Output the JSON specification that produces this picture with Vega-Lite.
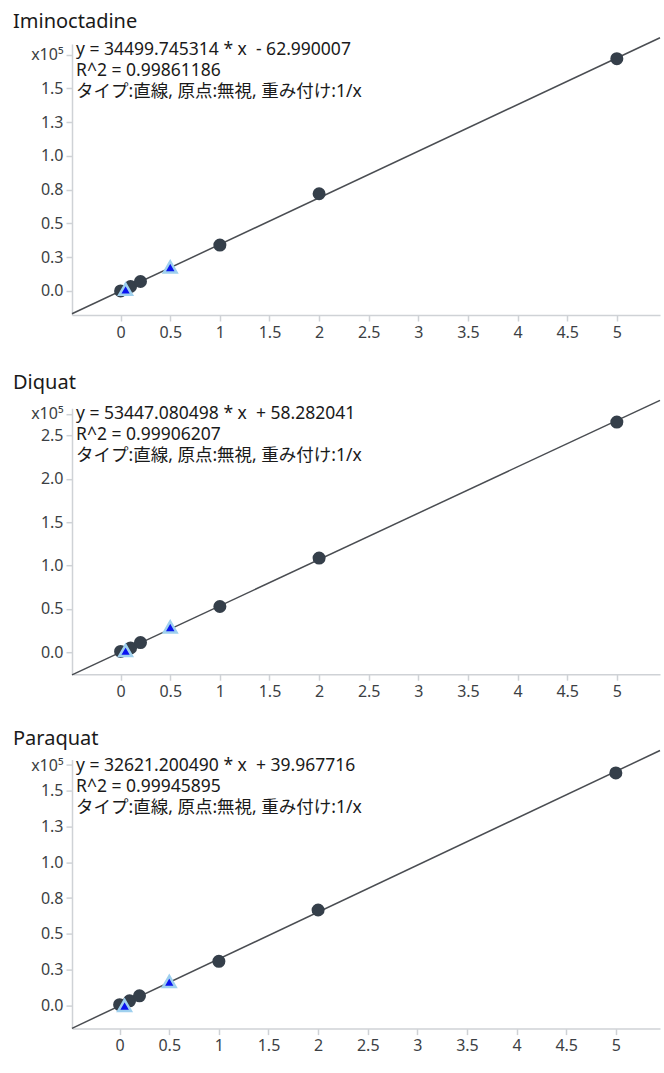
{
  "$schema": "https://vega.github.io/schema/vega-lite/v6.json",
  "background": "white",
  "padding": {"left": 13, "top": 12, "right": 0, "bottom": 6},
  "spacing": 33.2,
  "config": {
    "font": "Noto Sans, Noto Sans CJK JP",
    "view": {"stroke": null},
    "axis": {
      "domainColor": "#cfd2d6",
      "domainWidth": 1.5,
      "tickColor": "#cfd2d6",
      "tickWidth": 1.5,
      "tickSize": 6,
      "labelPadding": 3,
      "labelFontSize": 16,
      "labelColor": "#3c3f44",
      "labelFont": "Noto Sans",
      "labelOverlap": false,
      "labelBound": false,
      "grid": false,
      "title": null
    }
  },
  "resolve": {"scale": {"x": "independent", "y": "independent"}},
  "datasets": {
    "pts": [
      {"compound": "Iminoctadine", "kind": "std", "conc": 0, "resp": 0.0},
      {"compound": "Iminoctadine", "kind": "std", "conc": 0.1, "resp": 0.033},
      {"compound": "Iminoctadine", "kind": "std", "conc": 0.2, "resp": 0.07},
      {"compound": "Iminoctadine", "kind": "std", "conc": 1, "resp": 0.34},
      {"compound": "Iminoctadine", "kind": "std", "conc": 2, "resp": 0.72},
      {"compound": "Iminoctadine", "kind": "std", "conc": 5, "resp": 1.72},
      {"compound": "Iminoctadine", "kind": "qc", "conc": 0.05, "resp": 0.012},
      {"compound": "Iminoctadine", "kind": "qc", "conc": 0.5, "resp": 0.178},
      {"compound": "Diquat", "kind": "std", "conc": 0, "resp": 0.01},
      {"compound": "Diquat", "kind": "std", "conc": 0.1, "resp": 0.05},
      {"compound": "Diquat", "kind": "std", "conc": 0.2, "resp": 0.112},
      {"compound": "Diquat", "kind": "std", "conc": 1, "resp": 0.528},
      {"compound": "Diquat", "kind": "std", "conc": 2, "resp": 1.087},
      {"compound": "Diquat", "kind": "std", "conc": 5, "resp": 2.655},
      {"compound": "Diquat", "kind": "qc", "conc": 0.05, "resp": 0.02},
      {"compound": "Diquat", "kind": "qc", "conc": 0.5, "resp": 0.292},
      {"compound": "Paraquat", "kind": "std", "conc": 0, "resp": 0.008},
      {"compound": "Paraquat", "kind": "std", "conc": 0.1, "resp": 0.035},
      {"compound": "Paraquat", "kind": "std", "conc": 0.2, "resp": 0.07},
      {"compound": "Paraquat", "kind": "std", "conc": 1, "resp": 0.31},
      {"compound": "Paraquat", "kind": "std", "conc": 2, "resp": 0.667},
      {"compound": "Paraquat", "kind": "std", "conc": 5, "resp": 1.62},
      {"compound": "Paraquat", "kind": "qc", "conc": 0.05, "resp": 0.003},
      {"compound": "Paraquat", "kind": "qc", "conc": 0.5, "resp": 0.169}
    ],
    "fit": [
      {"compound": "Iminoctadine", "conc": -0.49, "resp": -0.169},
      {"compound": "Iminoctadine", "conc": 5.435, "resp": 1.875},
      {"compound": "Diquat", "conc": -0.49, "resp": -0.261},
      {"compound": "Diquat", "conc": 5.435, "resp": 2.906},
      {"compound": "Paraquat", "conc": -0.48, "resp": -0.156},
      {"compound": "Paraquat", "conc": 5.445, "resp": 1.776}
    ],
    "eq": [
      {"compound": "Iminoctadine", "text": "y = 34499.745314 * x \u00a0- 62.990007\nR^2 = 0.99861186\nタイプ:直線, 原点:無視, 重み付け:1/x"},
      {"compound": "Diquat", "text": "y = 53447.080498 * x \u00a0+ 58.282041\nR^2 = 0.99906207\nタイプ:直線, 原点:無視, 重み付け:1/x"},
      {"compound": "Paraquat", "text": "y = 32621.200490 * x \u00a0+ 39.967716\nR^2 = 0.99945895\nタイプ:直線, 原点:無視, 重み付け:1/x"}
    ]
  },
  "vconcat": [
    {
      "title": {"text": "Iminoctadine", "anchor": "start", "frame": "group", "dx": -59, "offset": 2.3, "fontSize": 20, "fontWeight": "normal", "color": "#1a1a1a", "font": "Noto Sans"},
      "width": 588,
      "height": 271,
      "layer": [
        {
          "data": {"name": "fit"},
          "transform": [{"filter": "datum.compound == 'Iminoctadine'"}],
          "mark": {"type": "line", "color": "#4a4d52", "strokeWidth": 1.5},
          "encoding": {
            "x": {"field": "conc", "type": "quantitative", "scale": {"domain": [-0.49, 5.435], "nice": false, "zero": false},
                  "axis": {"values": [0, 0.5, 1, 1.5, 2, 2.5, 3, 3.5, 4, 4.5, 5], "tickCount": 30, "format": "~g", "labelOverlap": false}},
            "y": {"field": "resp", "type": "quantitative", "scale": {"domain": [-0.178, 1.829], "nice": false, "zero": false},
                  "axis": {"values": [0, 0.25, 0.5, 0.75, 1, 1.25, 1.5, 1.75], "tickCount": 30, "labelOverlap": false, "labelExpr": "datum.value > 1.6 ? 'x10⁵' : format(datum.value, '.1f')"}}
          }
        },
        {
          "data": {"name": "pts"},
          "transform": [{"filter": "datum.compound == 'Iminoctadine' && datum.kind == 'std'"}],
          "mark": {"type": "circle", "size": 170, "color": "#353f4a", "opacity": 1},
          "encoding": {"x": {"field": "conc", "type": "quantitative"}, "y": {"field": "resp", "type": "quantitative"}}
        },
        {
          "data": {"name": "pts"},
          "transform": [{"filter": "datum.compound == 'Iminoctadine' && datum.kind == 'qc'"}],
          "mark": {"type": "point", "shape": "triangle-up", "size": 160, "filled": true, "fill": "#0a14f0", "stroke": "#9fd0ee", "strokeWidth": 2.5, "opacity": 1},
          "encoding": {"x": {"field": "conc", "type": "quantitative"}, "y": {"field": "resp", "type": "quantitative"}}
        },
        {
          "data": {"name": "eq"},
          "transform": [{"filter": "datum.compound == 'Iminoctadine'"}],
          "mark": {"type": "text", "align": "left", "baseline": "top", "lineBreak": "\n", "lineHeight": 21, "fontSize": 17.5, "color": "#1a1a1a", "dx": 4, "dy": -3},
          "encoding": {"x": {"datum": -0.49, "type": "quantitative"}, "y": {"datum": 1.829, "type": "quantitative"}, "text": {"field": "text"}}
        }
      ]
    },
    {
      "spacing": 28.4,
      "resolve": {"scale": {"x": "independent", "y": "independent"}},
      "vconcat": [
        {
          "title": {"text": "Diquat", "anchor": "start", "frame": "group", "dx": -59, "offset": 4.1, "fontSize": 20, "fontWeight": "normal", "color": "#1a1a1a", "font": "Noto Sans"},
          "width": 588,
          "height": 266,
          "layer": [
            {
              "data": {"name": "fit"},
              "transform": [{"filter": "datum.compound == 'Diquat'"}],
              "mark": {"type": "line", "color": "#4a4d52", "strokeWidth": 1.5},
              "encoding": {
                "x": {"field": "conc", "type": "quantitative", "scale": {"domain": [-0.49, 5.435], "nice": false, "zero": false},
                      "axis": {"values": [0, 0.5, 1, 1.5, 2, 2.5, 3, 3.5, 4, 4.5, 5], "tickCount": 30, "format": "~g", "labelOverlap": false}},
                "y": {"field": "resp", "type": "quantitative", "scale": {"domain": [-0.253, 2.815], "nice": false, "zero": false},
                      "axis": {"values": [0, 0.5, 1, 1.5, 2, 2.5, 2.75], "tickCount": 30, "labelOverlap": false, "labelExpr": "datum.value > 2.6 ? 'x10⁵' : format(datum.value, '.1f')"}}
              }
            },
            {
              "data": {"name": "pts"},
              "transform": [{"filter": "datum.compound == 'Diquat' && datum.kind == 'std'"}],
              "mark": {"type": "circle", "size": 170, "color": "#353f4a", "opacity": 1},
              "encoding": {"x": {"field": "conc", "type": "quantitative"}, "y": {"field": "resp", "type": "quantitative"}}
            },
            {
              "data": {"name": "pts"},
              "transform": [{"filter": "datum.compound == 'Diquat' && datum.kind == 'qc'"}],
              "mark": {"type": "point", "shape": "triangle-up", "size": 160, "filled": true, "fill": "#0a14f0", "stroke": "#9fd0ee", "strokeWidth": 2.5, "opacity": 1},
              "encoding": {"x": {"field": "conc", "type": "quantitative"}, "y": {"field": "resp", "type": "quantitative"}}
            },
            {
              "data": {"name": "eq"},
              "transform": [{"filter": "datum.compound == 'Diquat'"}],
              "mark": {"type": "text", "align": "left", "baseline": "top", "lineBreak": "\n", "lineHeight": 21, "fontSize": 17.5, "color": "#1a1a1a", "dx": 4, "dy": -3},
              "encoding": {"x": {"datum": -0.49, "type": "quantitative"}, "y": {"datum": 2.815, "type": "quantitative"}, "text": {"field": "text"}}
            }
          ]
        },
        {
          "title": {"text": "Paraquat", "anchor": "start", "frame": "group", "dx": -59, "offset": -1, "fontSize": 20, "fontWeight": "normal", "color": "#1a1a1a", "font": "Noto Sans"},
          "width": 588,
          "height": 269,
          "layer": [
            {
              "data": {"name": "fit"},
              "transform": [{"filter": "datum.compound == 'Paraquat'"}],
              "mark": {"type": "line", "color": "#4a4d52", "strokeWidth": 1.5},
              "encoding": {
                "x": {"field": "conc", "type": "quantitative", "scale": {"domain": [-0.48, 5.445], "nice": false, "zero": false},
                      "axis": {"values": [0, 0.5, 1, 1.5, 2, 2.5, 3, 3.5, 4, 4.5, 5], "tickCount": 30, "format": "~g", "labelOverlap": false}},
                "y": {"field": "resp", "type": "quantitative", "scale": {"domain": [-0.158, 1.713], "nice": false, "zero": false},
                      "axis": {"values": [0, 0.25, 0.5, 0.75, 1, 1.25, 1.5, 1.675], "tickCount": 30, "labelOverlap": false, "labelExpr": "datum.value > 1.6 ? 'x10⁵' : format(datum.value, '.1f')"}}
              }
            },
            {
              "data": {"name": "pts"},
              "transform": [{"filter": "datum.compound == 'Paraquat' && datum.kind == 'std'"}],
              "mark": {"type": "circle", "size": 170, "color": "#353f4a", "opacity": 1},
              "encoding": {"x": {"field": "conc", "type": "quantitative"}, "y": {"field": "resp", "type": "quantitative"}}
            },
            {
              "data": {"name": "pts"},
              "transform": [{"filter": "datum.compound == 'Paraquat' && datum.kind == 'qc'"}],
              "mark": {"type": "point", "shape": "triangle-up", "size": 160, "filled": true, "fill": "#0a14f0", "stroke": "#9fd0ee", "strokeWidth": 2.5, "opacity": 1},
              "encoding": {"x": {"field": "conc", "type": "quantitative"}, "y": {"field": "resp", "type": "quantitative"}}
            },
            {
              "data": {"name": "eq"},
              "transform": [{"filter": "datum.compound == 'Paraquat'"}],
              "mark": {"type": "text", "align": "left", "baseline": "top", "lineBreak": "\n", "lineHeight": 21, "fontSize": 17.5, "color": "#1a1a1a", "dx": 4, "dy": -3},
              "encoding": {"x": {"datum": -0.48, "type": "quantitative"}, "y": {"datum": 1.713, "type": "quantitative"}, "text": {"field": "text"}}
            }
          ]
        }
      ]
    }
  ]
}
